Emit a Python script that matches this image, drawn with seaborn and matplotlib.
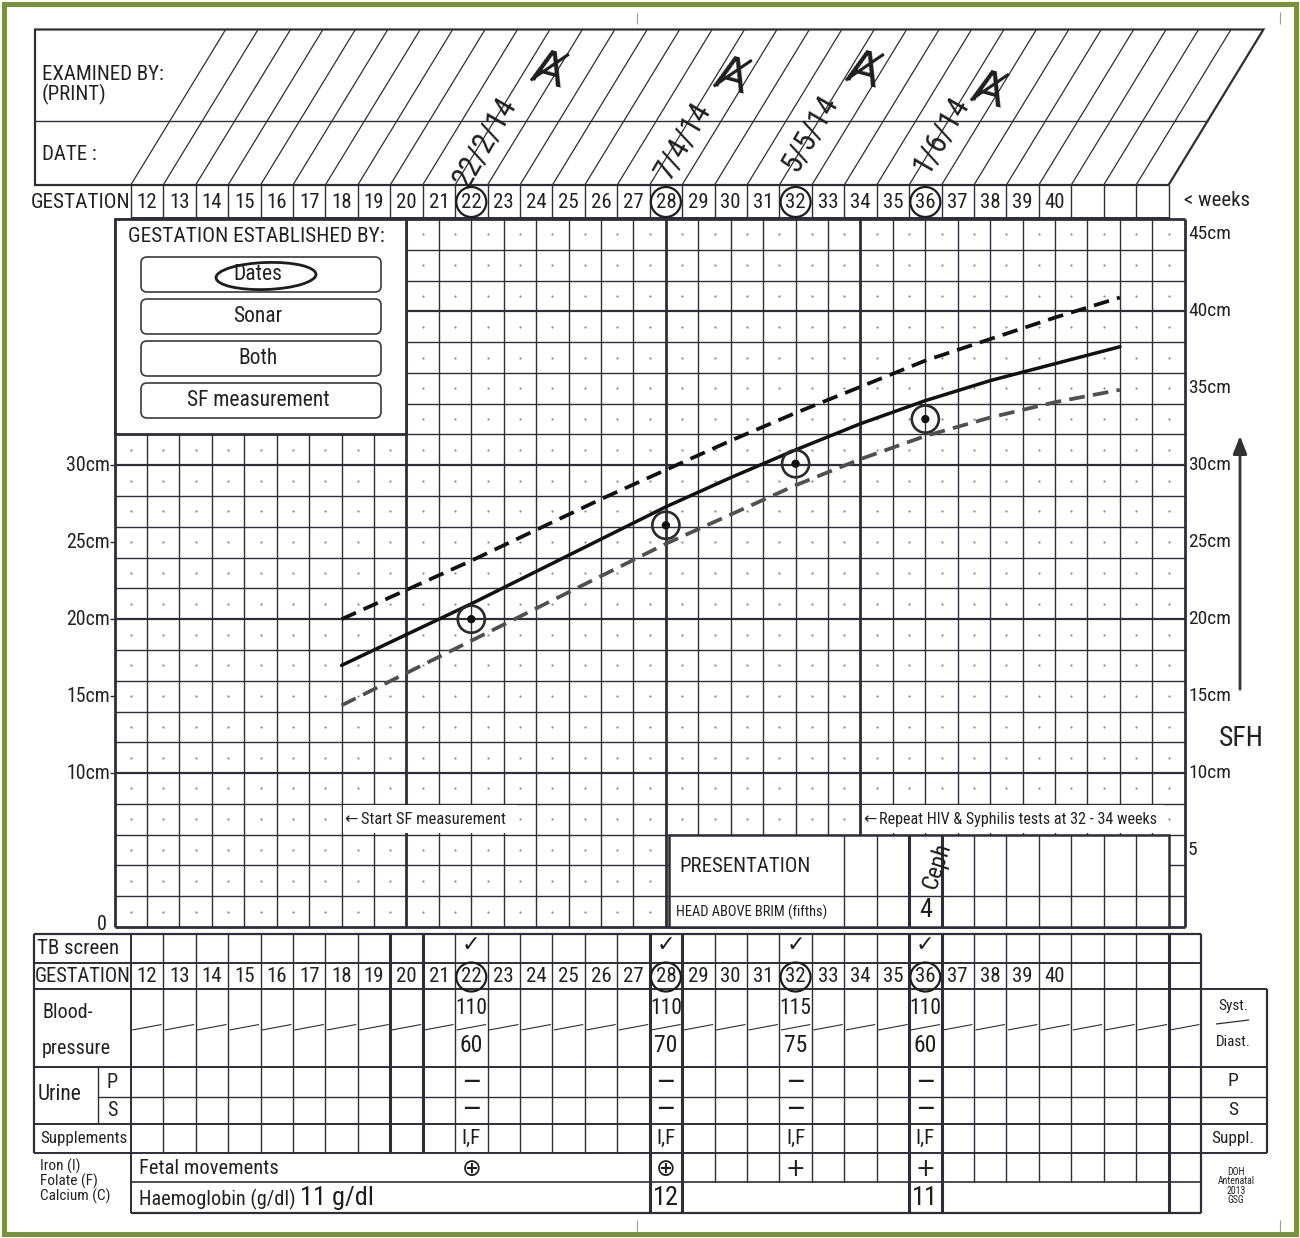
import numpy as np
import pandas as pd
import matplotlib
matplotlib.use("Agg")
import matplotlib.pyplot as plt
from matplotlib.patches import Rectangle, FancyBboxPatch, Ellipse, Polygon
from matplotlib.font_manager import FontProperties
from matplotlib import font_manager
import seaborn as sns

sns.set_theme(style="white")

# pick the narrowest available regular sans font
_cands = []
for f in font_manager.fontManager.ttflist:
    fn = f.fname.lower()
    if (f.stretch in ("condensed", "semi-condensed", "extra-condensed") or "condensed" in fn
            or "narrow" in fn) and f.style == "normal" and "bold" not in fn and "light" not in fn \
            and "thin" not in fn and "medium" not in fn and "black" not in fn and "italic" not in fn \
            and "oblique" not in fn and "semi" not in fn:
        _cands.append(f)
_pref = ["Liberation Sans Narrow", "Roboto Condensed", "Roboto", "DejaVu Sans", "Noto Sans", "Open Sans"]
_cands.sort(key=lambda f: (_pref.index(f.name) if f.name in _pref else 99))
if _cands:
    FP = FontProperties(fname=_cands[0].fname)
else:
    FP = FontProperties(family=["Roboto", "Liberation Sans", "DejaVu Sans"])
plt.rcParams["font.family"] = ["DejaVu Sans"]

# ---------------- data ----------------
curve_weeks = [18, 20, 22, 24, 26, 28, 30, 32, 34, 36, 38, 40, 42]
sfh_p90 = [20.0, 21.9, 23.8, 25.8, 27.8, 29.7, 31.6, 33.4, 35.1, 36.8, 38.2, 39.6, 40.9]
sfh_p50 = [17.0, 19.0, 21.0, 23.1, 25.2, 27.3, 29.2, 31.0, 32.7, 34.2, 35.5, 36.6, 37.7]
sfh_p10 = [14.4, 16.5, 18.6, 20.7, 22.8, 24.9, 26.8, 28.7, 30.4, 31.9, 33.1, 34.1, 34.9]

visit_weeks = [22, 28, 32, 36]
visit_sfh = [20.0, 26.1, 30.1, 33.0]
visit_dates = ["22/2/14", "7/4/14", "5/5/14", "1/6/14"]
tb_screen = ["\u2713", "\u2713", "\u2713", "\u2713"]
bp_syst = ["110", "110", "115", "110"]
bp_diast = ["60", "70", "75", "60"]
urine_p = ["\u2014", "\u2014", "\u2014", "\u2014"]
urine_s = ["\u2014", "\u2014", "\u2014", "\u2014"]
supplements = ["I,F", "I,F", "I,F", "I,F"]
fetal_movements = ["\u2295", "\u2295", "+", "+"]
haemoglobin = ["11 g/dl", "12", "", "11"]
presentation = ["", "", "", "Ceph"]
head_above_brim = ["", "", "", "4"]

gest_weeks = list(range(12, 41))
left_cm_labels = [30, 25, 20, 15, 10]
right_cm_labels = [45, 40, 35, 30, 25, 20, 15, 10]
sf_methods = ["Dates", "Sonar", "Both", "SF measurement"]

# ---------------- geometry ----------------
W, H = 1300, 1238
X12, DXW = 147.0, 32.43
Y0, DYC = 927.0, 15.391
def wx(w):
    return X12 + (w - 12) * DXW
def cy(c):
    return Y0 - c * DYC

LC = "#2e2e38"
INK = "#1d1d1d"
GREEN = "#77933c"

fig = plt.figure(figsize=(13, 12.38), dpi=100)
fig.patch.set_facecolor("white")

# chart grid axes (weeks x cm)
gl, gr = wx(11), wx(44)
gt, gb = cy(46), cy(0)
axg = fig.add_axes([gl / W, 1 - gb / H, (gr - gl) / W, (gb - gt) / H], zorder=1)

for w in range(11, 45):
    lw = 1.0
    if w in (11, 44, 20, 28):
        lw = 2.0
    if w == 34:
        axg.vlines(w, 0, 6, color=LC, lw=1.0, zorder=1)
        axg.vlines(w, 6, 46, color=LC, lw=2.0, zorder=1)
        continue
    axg.vlines(w, 0, 46, color=LC, lw=lw, zorder=1, clip_on=False)
for c in range(0, 47, 2):
    lw = 1.0
    if c in (10, 20, 30, 40):
        lw = 1.6
    if c in (0, 46):
        lw = 2.0
    axg.hlines(c, 11, 44, color=LC, lw=lw, zorder=1, clip_on=False)
dx, dy = np.meshgrid(np.arange(11.5, 44, 1.0), np.arange(1, 46, 2))
axg.scatter(dx.ravel(), dy.ravel(), s=2.5, color="#8a8a8a", linewidths=0, zorder=1)

# reference curves
sns.lineplot(x=curve_weeks, y=sfh_p90, ax=axg, color="#111111", lw=2.7,
             linestyle=(0, (4.2, 2.2)), zorder=4)
sns.lineplot(x=curve_weeks, y=sfh_p50, ax=axg, color="#111111", lw=2.5, zorder=4)
sns.lineplot(x=curve_weeks, y=sfh_p10, ax=axg, color="#505050", lw=2.7,
             linestyle=(0, (4.2, 2.2)), zorder=4)
# measured points
sns.scatterplot(x=visit_weeks, y=visit_sfh, ax=axg, marker="o", s=380,
                facecolors="none", edgecolor="#2a2a2a", linewidth=1.9, zorder=6)
sns.scatterplot(x=visit_weeks, y=visit_sfh, ax=axg, marker="o", s=36,
                color="#111111", edgecolor="none", zorder=7)
axg.set_xlim(11, 44)
axg.set_ylim(0, 46)
axg.axis("off")

# form overlay axes (pixels)
ax = fig.add_axes([0, 0, 1, 1], zorder=2)
ax.set_xlim(0, W)
ax.set_ylim(H, 0)
ax.axis("off")

def L(x0, y0, x1, y1, lw=1.2, c=LC, z=3):
    ax.plot([x0, x1], [y0, y1], color=c, lw=lw, solid_capstyle="butt", zorder=z)

def T(x, y, s, size=13, ha="left", va="center", color="#222222", fp=None, **kw):
    ax.text(x, y, s, fontproperties=fp or FP, fontsize=size, ha=ha, va=va, color=color,
            zorder=6, **kw)

SYM = FontProperties(family=["DejaVu Sans"])

def HW(x, y, s, size=15, rot=0, ha="center", fp=None, **kw):
    ax.text(x, y, s, fontproperties=fp or FP, fontsize=size, ha=ha, va="center", color=INK,
            rotation=rot, rotation_mode="anchor", zorder=7, **kw)

# green frame & crop marks
ax.add_patch(Rectangle((4, 4), 1292, 1230, fill=False, ec=GREEN, lw=3.6, zorder=9))
for (x0, y0, y1) in [(637, 13, 24), (1280, 12, 24), (637, 1220, 1232), (1280, 1220, 1232)]:
    L(x0, y0, x0, y1, lw=0.8, c="#9a9a9a")

# ---------------- header ----------------
SL = 0.61
YT, YM, YB = 29.5, 121, 185
xb_end = wx(43.5)
ax.add_patch(Polygon([(35, YT), (xb_end + SL * (YB - YT), YT), (xb_end, YB), (35, YB)],
                     closed=True, fill=False, ec=LC, lw=1.6, zorder=3))
L(35, YM, xb_end + SL * (YB - YM), YM, lw=1.0)
for k in np.arange(11.5, 43.0, 1.0):
    xb = wx(k)
    L(xb, YB, xb + SL * (YB - YT), YT, lw=0.9)
for k in np.arange(11.5, 44.0, 1.0):
    L(wx(k), YB, wx(k), 218, lw=1.0)
L(wx(11.5), 218, wx(43.5), 218, lw=1.4)
T(31, 202, "GESTATION", size=15.3)
for n in gest_weeks:
    T(wx(n), 202, str(n), size=15, ha="center")
T(1184, 201, "< weeks", size=15)
T(42, 75, "EXAMINED BY:", size=15)
T(42, 94, "(PRINT)", size=15)
T(42, 155, "DATE :", size=15)

date_pos = [(460, 184), (662, 176), (789, 168), (920, 170)]
sig_pos = [(547, 72), (730, 78), (862, 72), (987, 92)]
for (x, y), d in zip(date_pos, visit_dates):
    HW(x, y, d, size=22, rot=60, ha="left")
for (x, y) in sig_pos:
    HW(x, y, "\u023a", size=34, rot=-15, fp=SYM)
for wk in visit_weeks:
    ax.add_patch(Ellipse((wx(wk), 202), 30, 30, fill=False, ec=INK, lw=1.6, zorder=7))

# ---------------- gestation established box ----------------
ax.add_patch(Rectangle((wx(11), cy(46)), wx(20) - wx(11), cy(32) - cy(46),
                       fc="white", ec=LC, lw=2.0, zorder=4))
T(256, 236, "GESTATION ESTABLISHED BY:", size=15.4, ha="center")
for i, m in enumerate(sf_methods):
    top = 257 + 42 * i
    ax.add_patch(FancyBboxPatch((141, top), 240, 35, boxstyle="round,pad=0,rounding_size=6",
                                fc="white", ec="#3a3a3a", lw=1.2, zorder=5))
    T(258, top + 18, m, size=15.5, ha="center")
ax.add_patch(Ellipse((266, 276), 100, 27, angle=-2, fill=False, ec=INK, lw=2.0, zorder=7))

# annotation strips
ax.add_patch(Rectangle((wx(18) + 1.5, cy(8) + 1.5), wx(23.35) - wx(18), cy(6) - cy(8) - 3,
                       fc="white", ec="none", zorder=4))
T(wx(18) + 3, cy(7), "\u2190", size=11.5, fp=SYM)
T(wx(18) + 19, cy(7), "Start SF measurement", size=11.9)
ax.add_patch(Rectangle((wx(34) + 1.5, cy(8) + 1.5), wx(43.3) - wx(34), cy(6) - cy(8) - 3,
                       fc="white", ec="none", zorder=4))
T(wx(34) + 3, cy(7), "\u2190", size=11.5, fp=SYM)
T(wx(34) + 19, cy(7), "Repeat HIV & Syphilis tests at 32 - 34 weeks", size=11.6)

# presentation box
px0, px1 = 669, wx(43.5)
ax.add_patch(Rectangle((px0, cy(6)), px1 - px0, cy(0) - cy(6), fc="white", ec=LC, lw=1.8, zorder=4))
L(px0, cy(2), px1, cy(2), lw=1.0, z=5)
for k in np.arange(33.5, 43.5, 1.0):
    lw = 2.2 if k in (35.5, 36.5) else 1.0
    L(wx(k), cy(6), wx(k), cy(0), lw=lw, z=5)
T(679, 867, "PRESENTATION", size=15)
T(676, 912, "HEAD ABOVE BRIM (fifths)", size=10.4)
for wk, p, hb in zip(visit_weeks, presentation, head_above_brim):
    if p:
        HW(wx(wk) + 4, 888, p, size=17, rot=72, ha="left")
    if hb:
        HW(wx(wk), 910, hb, size=19)

# axis labels
for c in left_cm_labels:
    T(110, cy(c), f"{c}cm", size=14.3, ha="right")
    L(110, cy(c), wx(11), cy(c), lw=1.0)
T(107, 924, "0", size=14.5, ha="right")
for c in right_cm_labels:
    T(1188, cy(c), f"{c}cm", size=14)
T(1188, cy(5), "5", size=14)
T(1241, 738, "SFH", size=20, ha="center")
ax.annotate("", xy=(1240, 433), xytext=(1240, 692),
            arrowprops=dict(arrowstyle="-|>,head_length=0.9,head_width=0.35", color="#333333", lw=2.0),
            zorder=6)

# ---------------- bottom table ----------------
tl, tlab, tr, trr = 34, wx(11.5), wx(44.5), 1267
yTB, yG, yBP, yP, yS, ySU, yFM, yHB, yEND = 934, 963, 989, 1067, 1097, 1124, 1153, 1182, 1213
L(tl, yTB, tr, yTB, lw=1.6)
L(tl, yG, tr, yG, lw=1.4)
L(tl, yBP, trr, yBP, lw=1.4)
L(tl, yP, trr, yP, lw=1.4)
L(97.5, yS, trr, yS, lw=1.0)
L(tl, ySU, trr, ySU, lw=1.4)
L(tl, yFM, trr, yFM, lw=1.4)
L(tlab, yHB, tr, yHB, lw=1.2)
L(tlab, yEND, tr, yEND, lw=1.6)
L(tl, yTB, tl, yFM, lw=1.6)
L(tlab, yTB, tlab, yEND, lw=1.4)
L(97.5, yP, 97.5, ySU, lw=1.0)
L(tr, yTB, tr, yEND, lw=1.6)
L(trr, yBP, trr, yFM, lw=1.6)
thick_cols = (19.5, 20.5, 27.5, 28.5, 35.5, 36.5, 43.5)
for k in np.arange(12.5, 44.0, 1.0):
    lw = 2.2 if k in thick_cols else 1.0
    L(wx(k), yTB, wx(k), yFM, lw=lw)
    if k >= 27.5:
        L(wx(k), yFM, wx(k), yHB, lw=lw)
    if k in (27.5, 28.5, 35.5, 36.5, 43.5):
        L(wx(k), yHB, wx(k), yEND, lw=lw)
for n in range(12, 45):
    L(wx(n - 0.5) + 1.5, 1030, wx(n + 0.5) - 1.5, 1024.5, lw=0.8)
L(1216, 1024, 1249, 1020, lw=0.9)

T(37, 949, "TB screen", size=15)
T(35, 977, "GESTATION", size=14.8)
for n in gest_weeks:
    T(wx(n), 977, str(n), size=15, ha="center")
for wk in visit_weeks:
    ax.add_patch(Ellipse((wx(wk), 977), 30, 29, fill=False, ec=INK, lw=1.6, zorder=7))
T(42, 1012, "Blood-", size=14.5)
T(42, 1049, "pressure", size=14.5)
T(38, 1095, "Urine", size=15.5)
T(112, 1082, "P", size=14.5, ha="center")
T(112, 1110, "S", size=14.5, ha="center")
T(40, 1139, "Supplements", size=12.2)
T(40, 1166, "Iron (I)", size=11)
T(40, 1181, "Folate (F)", size=11)
T(40, 1196, "Calcium (C)", size=11)
T(139, 1169, "Fetal movements", size=14.8)
T(139, 1199, "Haemoglobin (g/dl)", size=14.6)
T(1233, 1006, "Syst.", size=11, ha="center")
T(1233, 1042, "Diast.", size=11, ha="center")
T(1233, 1081, "P", size=14, ha="center")
T(1233, 1110, "S", size=14, ha="center")
T(1233, 1139, "Suppl.", size=12.5, ha="center")
T(1236, 1186, "DOH\nAntenatal\n2013\nGSG", size=7, ha="center", linespacing=0.95)

for i, wk in enumerate(visit_weeks):
    x = wx(wk)
    HW(x, 945, tb_screen[i], size=16, fp=SYM)
    HW(x, 1008, bp_syst[i], size=15.5)
    HW(x, 1045, bp_diast[i], size=17)
    HW(x, 1081, urine_p[i], size=12, fp=SYM, fontweight="bold")
    HW(x, 1108, urine_s[i], size=12, fp=SYM, fontweight="bold")
    HW(x, 1138, supplements[i], size=15)
    HW(x, 1169, fetal_movements[i], size=17, fp=SYM)
    if haemoglobin[i]:
        if i == 0:
            HW(300, 1198, haemoglobin[i], size=19, ha="left")
        else:
            HW(x, 1198, haemoglobin[i], size=19)

fig.savefig("out.png", dpi=100, facecolor="white")
